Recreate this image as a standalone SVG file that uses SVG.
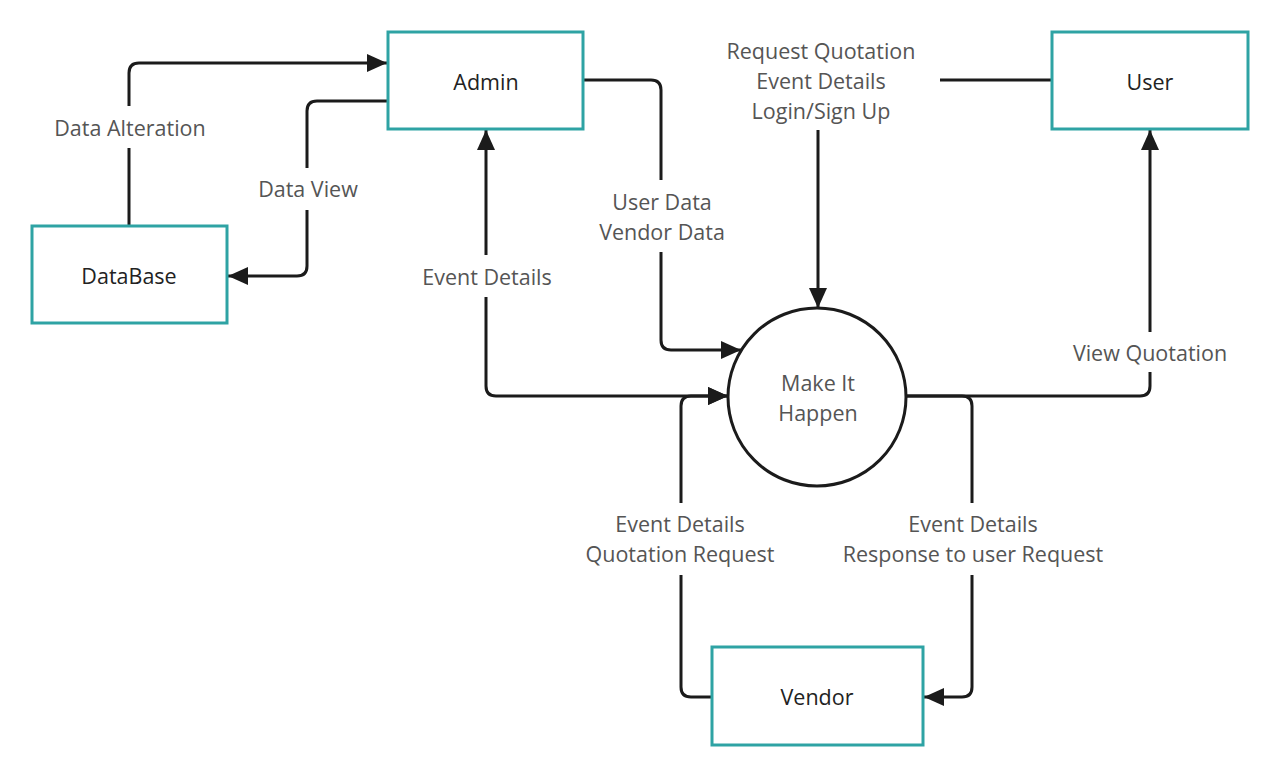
<svg xmlns="http://www.w3.org/2000/svg" width="1280" height="778" viewBox="0 0 1280 778">
<style>
.box{fill:#fff;stroke:#2ea3a4;stroke-width:3}
.proc{fill:#fff;stroke:#1b1b1b;stroke-width:3}
.ntxt{font-family:"Open Sans","Liberation Sans",sans-serif;font-size:21.5px;fill:#222;text-anchor:middle;dominant-baseline:central}
.ltxt{font-family:"Open Sans","Liberation Sans",sans-serif;font-size:21.5px;fill:#555;text-anchor:middle;dominant-baseline:central}
.edge{fill:none;stroke:#1b1b1b;stroke-width:3}
.lbg{fill:#fff}
</style>
<defs>
<marker id="arr" viewBox="0 0 22 22" refX="20" refY="11" markerWidth="22" markerHeight="22" markerUnits="userSpaceOnUse" orient="auto-start-reverse">
<path d="M0,2 L20,11 L0,20 Z" fill="#1b1b1b"/>
</marker>
</defs>
<rect width="1280" height="778" fill="#fff"/>
<g id="connectors">
<path class="edge" d="M129,226 V73 Q129,63 139,63 H387" marker-end="url(#arr)"/>
<path class="edge" d="M388,101 H317 Q307,101 307,111 V266 Q307,276 297,276 H228" marker-end="url(#arr)"/>
<path class="edge" d="M486,130 V386 Q486,396 496,396 H728" marker-start="url(#arr)" marker-end="url(#arr)"/>
<path class="edge" d="M583,80 H651 Q661,80 661,90 V340 Q661,350 671,350 H741" marker-end="url(#arr)"/>
<path class="edge" d="M1052,80 H828 Q818,80 818,90 V308" marker-end="url(#arr)"/>
<path class="edge" d="M906,396 H1140 Q1150,396 1150,386 V130" marker-end="url(#arr)"/>
<path class="edge" d="M712,697 H691 Q681,697 681,687 V406 Q681,396 691,396 H728" marker-end="url(#arr)"/>
<path class="edge" d="M906,396 H962 Q972,396 972,406 V687 Q972,697 962,697 H924" marker-end="url(#arr)"/>
<rect class="lbg" x="48" y="106" width="164" height="42"/>
<text class="ltxt" x="130" y="127">Data Alteration</text>
<rect class="lbg" x="253" y="168" width="110" height="42"/>
<text class="ltxt" x="308" y="188">Data View</text>
<rect class="lbg" x="414" y="255" width="146" height="42"/>
<text class="ltxt" x="487" y="276">Event Details</text>
<rect class="lbg" x="592" y="180" width="140" height="72"/>
<text class="ltxt" x="662" y="201">User Data</text>
<text class="ltxt" x="662" y="231">Vendor Data</text>
<rect class="lbg" x="712" y="30" width="228" height="100"/>
<text class="ltxt" x="821" y="50">Request Quotation</text>
<text class="ltxt" x="821" y="80">Event Details</text>
<text class="ltxt" x="821" y="110">Login/Sign Up</text>
<rect class="lbg" x="1064" y="332" width="172" height="40"/>
<text class="ltxt" x="1150" y="352">View Quotation</text>
<rect class="lbg" x="576" y="503" width="210" height="72"/>
<text class="ltxt" x="680" y="523">Event Details</text>
<text class="ltxt" x="680" y="553">Quotation Request</text>
<rect class="lbg" x="834" y="503" width="278" height="72"/>
<text class="ltxt" x="973" y="523">Event Details</text>
<text class="ltxt" x="973" y="553">Response to user Request</text>
</g>
<g id="admin">
<rect class="box" x="388" y="32" width="195" height="97"/>
<text class="ntxt" x="486" y="81">Admin</text>
</g>
<g id="user">
<rect class="box" x="1052" y="32" width="196" height="97"/>
<text class="ntxt" x="1150" y="81">User</text>
</g>
<g id="database">
<rect class="box" x="32" y="226" width="195" height="97"/>
<text class="ntxt" x="129" y="275">DataBase</text>
</g>
<g id="vendor">
<rect class="box" x="712" y="647" width="211" height="98"/>
<text class="ntxt" x="817" y="696">Vendor</text>
</g>
<g id="make-it-happen">
<circle class="proc" cx="817" cy="397" r="89"/>
<text class="ltxt" x="818" y="382">Make It</text>
<text class="ltxt" x="818" y="412">Happen</text>
</g>
</svg>
